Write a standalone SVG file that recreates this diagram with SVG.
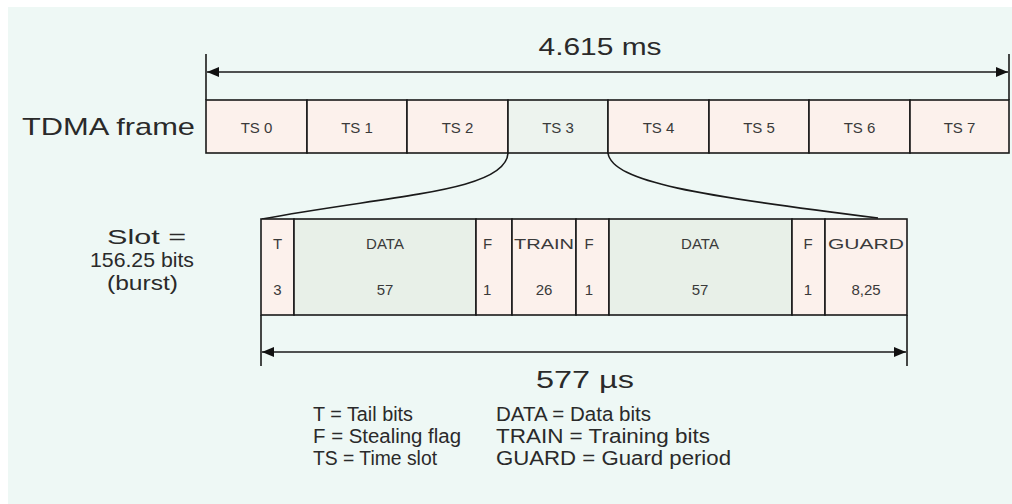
<svg xmlns="http://www.w3.org/2000/svg" width="1012" height="504" viewBox="0 0 1012 504">
<defs>
<marker id="ah" viewBox="0 0 12 10" refX="12" refY="5" markerWidth="12" markerHeight="10" markerUnits="userSpaceOnUse" orient="auto-start-reverse">
<path d="M0,0 L12,5 L0,10 Z" fill="#111"/>
</marker>
<style>
.t{font-family:"Liberation Sans",Arial,sans-serif;fill:#2a2a2a}
.big{font-size:24px}
.mid{font-size:21px}
.lg{font-size:20px}
.sm{font-size:15px;fill:#3a3a3a}
.ln{stroke:#1a1a1a;stroke-width:1.6;fill:none}
.pk{fill:#fcf1ec;stroke:#1a1a1a;stroke-width:1.6}
.gr{fill:#e8f0e8;stroke:#1a1a1a;stroke-width:1.6}
</style>
</defs>
<rect x="0" y="0" width="1012" height="504" fill="#ffffff"/>
<rect x="8" y="7" width="1004" height="497" fill="#eef8f5"/>

<g id="frame-dim">
<line class="ln" x1="206" y1="54" x2="206" y2="100"/>
<line class="ln" x1="1009" y1="54" x2="1009" y2="100"/>
<line class="ln" x1="207" y1="72" x2="1008" y2="72" marker-start="url(#ah)" marker-end="url(#ah)"/>
<text class="t big" x="600" y="55" text-anchor="middle" textLength="123" lengthAdjust="spacingAndGlyphs">4.615 ms</text>
</g>

<text class="t big" x="22" y="135" textLength="173" lengthAdjust="spacingAndGlyphs">TDMA frame</text>

<g id="tdma-frame">
<g id="ts0"><rect class="pk" x="206" y="100" width="101" height="53"/><text class="t sm" x="256.5" y="133" text-anchor="middle">TS 0</text></g>
<g id="ts1"><rect class="pk" x="307" y="100" width="100" height="53"/><text class="t sm" x="357" y="133" text-anchor="middle">TS 1</text></g>
<g id="ts2"><rect class="pk" x="407" y="100" width="101" height="53"/><text class="t sm" x="457.5" y="133" text-anchor="middle">TS 2</text></g>
<g id="ts3"><rect x="508" y="100" width="100" height="53" fill="#edf3ee" stroke="#1a1a1a" stroke-width="1.6"/><text class="t sm" x="558" y="133" text-anchor="middle">TS 3</text></g>
<g id="ts4"><rect class="pk" x="608" y="100" width="101" height="53"/><text class="t sm" x="658.5" y="133" text-anchor="middle">TS 4</text></g>
<g id="ts5"><rect class="pk" x="709" y="100" width="100" height="53"/><text class="t sm" x="759" y="133" text-anchor="middle">TS 5</text></g>
<g id="ts6"><rect class="pk" x="809" y="100" width="101" height="53"/><text class="t sm" x="859.5" y="133" text-anchor="middle">TS 6</text></g>
<g id="ts7"><rect class="pk" x="910" y="100" width="99" height="53"/><text class="t sm" x="959.5" y="133" text-anchor="middle">TS 7</text></g>
</g>

<g id="connectors">
<path class="ln" d="M508,153 C506,192 390,195 262,219"/>
<path class="ln" d="M608,153 C612,182 700,196 878,218"/>
</g>

<g id="slot-label">
<text class="t mid" x="107" y="244" textLength="79" lengthAdjust="spacingAndGlyphs">Slot =</text>
<text class="t mid" x="90" y="267" textLength="104" lengthAdjust="spacingAndGlyphs">156.25 bits</text>
<text class="t mid" x="107" y="290" textLength="71" lengthAdjust="spacingAndGlyphs">(burst)</text>
</g>

<g id="slot">
<g id="c-t"><rect class="pk" x="261" y="219" width="33" height="96"/><text class="t sm" x="277.5" y="249" text-anchor="middle">T</text><text class="t sm" x="277.5" y="295" text-anchor="middle">3</text></g>
<g id="c-data1"><rect class="gr" x="294" y="219" width="182" height="96"/><text class="t sm" x="385" y="249" text-anchor="middle">DATA</text><text class="t sm" x="385" y="295" text-anchor="middle">57</text></g>
<g id="c-f1"><rect class="pk" x="476" y="219" width="36" height="96"/><text class="t sm" x="483" y="249">F</text><text class="t sm" x="483" y="295">1</text></g>
<g id="c-train"><rect class="pk" x="512" y="219" width="64" height="96"/><text class="t sm" x="544" y="249" text-anchor="middle" textLength="60" lengthAdjust="spacingAndGlyphs">TRAIN</text><text class="t sm" x="544" y="295" text-anchor="middle">26</text></g>
<g id="c-f2"><rect class="pk" x="576" y="219" width="33" height="96"/><text class="t sm" x="589" y="249" text-anchor="middle">F</text><text class="t sm" x="589" y="295" text-anchor="middle">1</text></g>
<g id="c-data2"><rect class="gr" x="609" y="219" width="183" height="96"/><text class="t sm" x="700" y="249" text-anchor="middle">DATA</text><text class="t sm" x="700" y="295" text-anchor="middle">57</text></g>
<g id="c-f3"><rect class="pk" x="792" y="219" width="33" height="96"/><text class="t sm" x="808" y="249" text-anchor="middle">F</text><text class="t sm" x="808" y="295" text-anchor="middle">1</text></g>
<g id="c-guard"><rect class="pk" x="825" y="219" width="82" height="96"/><text class="t sm" x="866" y="249" text-anchor="middle" textLength="76" lengthAdjust="spacingAndGlyphs">GUARD</text><text class="t sm" x="866" y="295" text-anchor="middle">8,25</text></g>
</g>

<g id="slot-dim">
<line class="ln" x1="261" y1="315" x2="261" y2="366"/>
<line class="ln" x1="907" y1="315" x2="907" y2="366"/>
<line class="ln" x1="262" y1="352" x2="906" y2="352" marker-start="url(#ah)" marker-end="url(#ah)"/>
<text class="t big" x="585" y="388" text-anchor="middle" textLength="98" lengthAdjust="spacingAndGlyphs">577 µs</text>
</g>

<g id="legend">
<text class="t lg" x="313" y="421" textLength="100" lengthAdjust="spacingAndGlyphs">T = Tail bits</text>
<text class="t lg" x="313" y="443" textLength="148" lengthAdjust="spacingAndGlyphs">F = Stealing flag</text>
<text class="t lg" x="313" y="465" textLength="124" lengthAdjust="spacingAndGlyphs">TS = Time slot</text>
<text class="t lg" x="496" y="421" textLength="155" lengthAdjust="spacingAndGlyphs">DATA = Data bits</text>
<text class="t lg" x="496" y="443" textLength="214" lengthAdjust="spacingAndGlyphs">TRAIN = Training bits</text>
<text class="t lg" x="496" y="465" textLength="235" lengthAdjust="spacingAndGlyphs">GUARD = Guard period</text>
</g>
</svg>
